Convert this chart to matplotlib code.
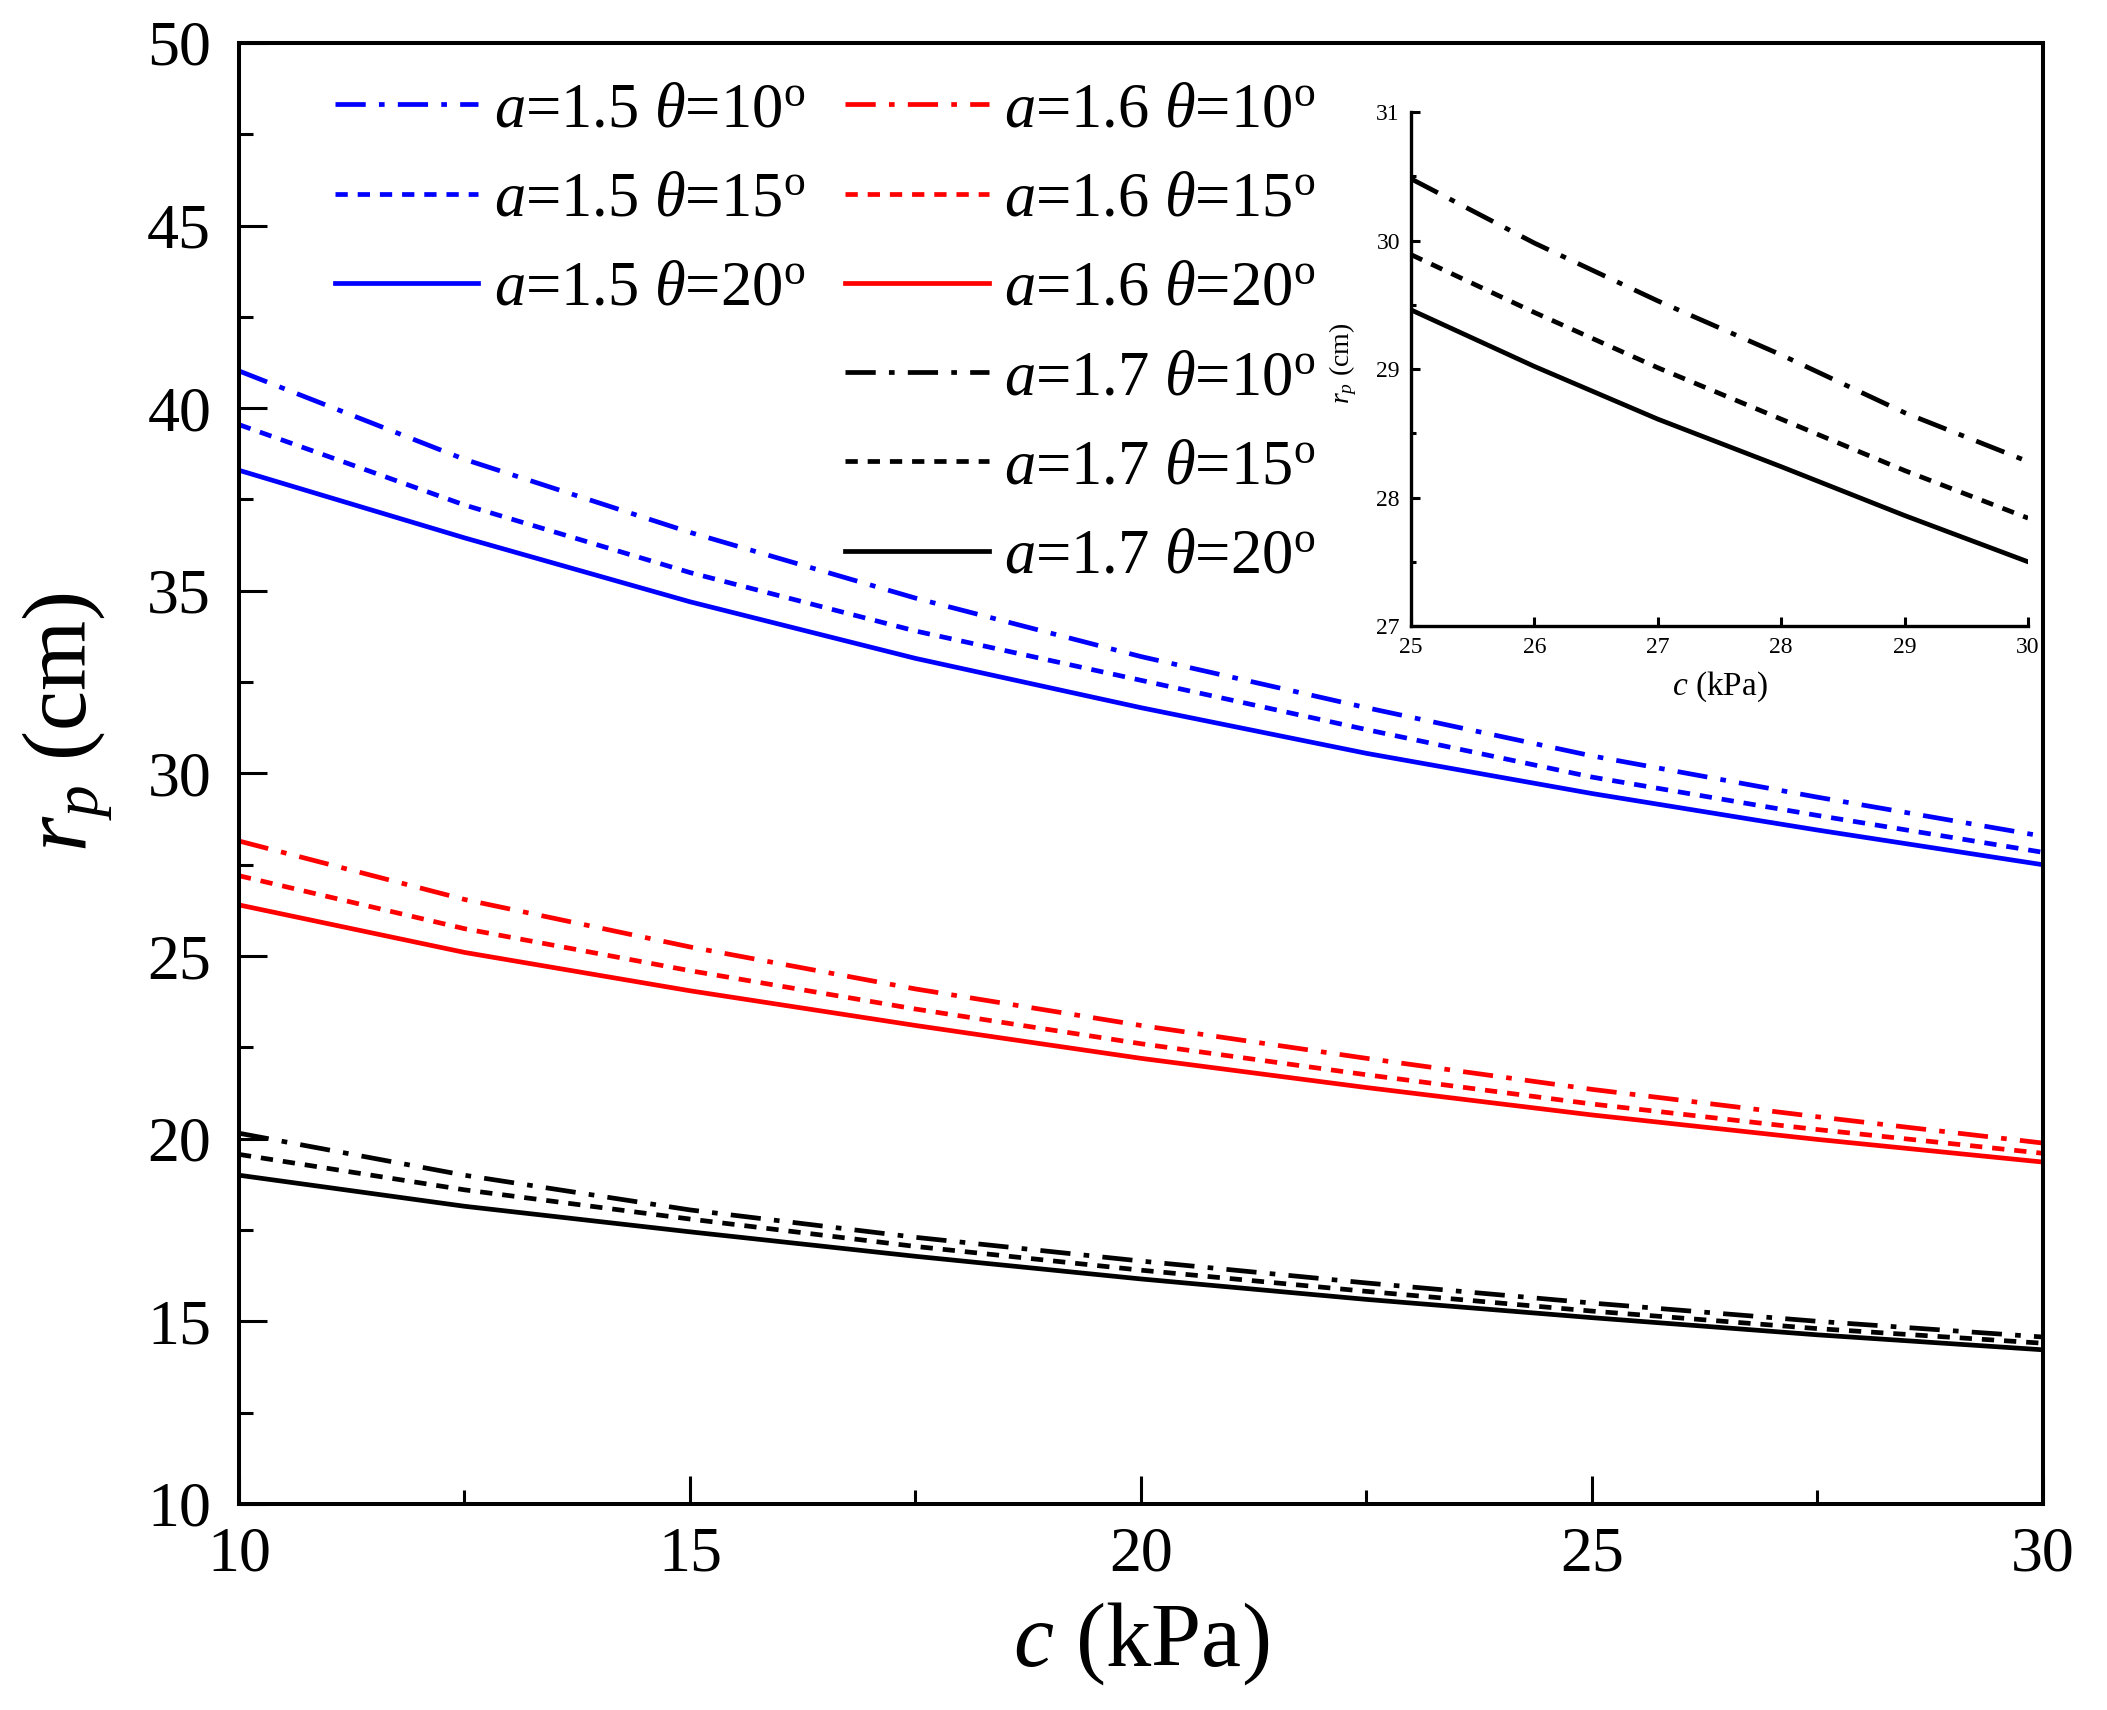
import matplotlib
matplotlib.use('Agg')
import matplotlib.pyplot as plt
from matplotlib.ticker import MultipleLocator

plt.rcParams['font.family'] = 'Liberation Serif'
plt.rcParams['mathtext.fontset'] = 'custom'
plt.rcParams['mathtext.rm'] = 'Liberation Serif'
plt.rcParams['mathtext.it'] = 'Liberation Serif:italic'
plt.rcParams['axes.unicode_minus'] = False

# cohesion c (kPa)
c = [10, 12.5, 15, 17.5, 20, 22.5, 25, 27.5, 30]

# r_p (cm), a = 1.5
a15_t10 = [41.02, 38.6, 36.6, 34.8, 33.2, 31.8, 30.48, 29.35, 28.28]
a15_t15 = [39.55, 37.35, 35.5, 33.9, 32.55, 31.2, 29.9, 28.85, 27.84]
a15_t20 = [38.3, 36.45, 34.7, 33.15, 31.8, 30.55, 29.45, 28.45, 27.5]
# a = 1.6
a16_t10 = [28.15, 26.55, 25.25, 24.1, 23.1, 22.2, 21.35, 20.6, 19.88]
a16_t15 = [27.2, 25.75, 24.6, 23.55, 22.6, 21.75, 20.95, 20.25, 19.6]
a16_t20 = [26.4, 25.1, 24.05, 23.1, 22.2, 21.4, 20.65, 19.98, 19.36]
# a = 1.7
a17_t10 = [20.15, 19.0, 18.05, 17.3, 16.65, 16.05, 15.5, 15.0, 14.57]
a17_t15 = [19.57, 18.6, 17.8, 17.05, 16.4, 15.82, 15.28, 14.8, 14.4]
a17_t20 = [19.0, 18.15, 17.45, 16.78, 16.16, 15.6, 15.1, 14.63, 14.22]

# inset (zoom 25-30 kPa)
c_in = [25, 26, 27, 28, 29, 30]
in_t10 = [30.48, 29.98, 29.53, 29.11, 28.66, 28.28]
in_t15 = [29.89, 29.44, 29.01, 28.61, 28.21, 27.84]
in_t20 = [29.46, 29.02, 28.61, 28.24, 27.86, 27.50]

lw = 3.4
dashdot = (0, (6.4, 2.8, 1.2, 2.8))
dashed = (0, (2.6, 2.1))
solid = '-'

fig = plt.figure(figsize=(21.07, 17.1), dpi=100)
ax = fig.add_axes([0.1134, 0.1205, 0.8562, 0.8544])

series = [
    (a15_t10, 'blue', dashdot, '1.5', '10'),
    (a15_t15, 'blue', dashed, '1.5', '15'),
    (a15_t20, 'blue', solid, '1.5', '20'),
    (a16_t10, 'red', dashdot, '1.6', '10'),
    (a16_t15, 'red', dashed, '1.6', '15'),
    (a16_t20, 'red', solid, '1.6', '20'),
    (a17_t10, 'black', dashdot, '1.7', '10'),
    (a17_t15, 'black', dashed, '1.7', '15'),
    (a17_t20, 'black', solid, '1.7', '20'),
]
handles = []
for y, col, ls, a, t in series:
    h, = ax.plot(c, y, color=col, linestyle=ls, lw=lw,
                 label=r'$a$=' + a + r' $\theta$=' + t + r'$^{\rm o}$')
    handles.append(h)

ax.set_xlim(10, 30)
ax.set_ylim(10, 50)
ax.xaxis.set_major_locator(MultipleLocator(5))
ax.xaxis.set_minor_locator(MultipleLocator(2.5))
ax.yaxis.set_major_locator(MultipleLocator(5))
ax.yaxis.set_minor_locator(MultipleLocator(2.5))
ax.tick_params(which='both', direction='in', top=False, right=False, width=2.2)
ax.tick_params(which='major', length=20, labelsize=46)
ax.tick_params(axis='x', which='major', pad=16)
ax.tick_params(axis='y', which='major', pad=20)
ax.tick_params(which='minor', length=10)
for s in ax.spines.values():
    s.set_linewidth(2.9)

ax.set_xlabel(r'$c$ (kPa)', fontsize=65)
ax.set_ylabel(r'$r_p$ (cm)', fontsize=65)
ax.xaxis.set_label_coords(0.5, -0.066)
ax.yaxis.set_label_coords(-0.068, 0.535)

leg_kw = dict(loc='upper left', frameon=False, fontsize=45, handlelength=2.3,
              handletextpad=0.25, labelspacing=0.5, borderpad=0, borderaxespad=0)
leg1 = ax.legend(handles=handles[:3], bbox_to_anchor=(0.053, 0.973), **leg_kw)
ax.add_artist(leg1)
ax.legend(handles=handles[3:], bbox_to_anchor=(0.336, 0.973), **leg_kw)

# inset
axin = fig.add_axes([0.6697, 0.6339, 0.2928, 0.3006])
axin.plot(c_in, in_t10, color='black', linestyle=dashdot, lw=lw)
axin.plot(c_in, in_t15, color='black', linestyle=dashed, lw=lw)
axin.plot(c_in, in_t20, color='black', linestyle=solid, lw=lw)
axin.set_xlim(25, 30)
axin.set_ylim(27, 31)
axin.xaxis.set_major_locator(MultipleLocator(1))
axin.yaxis.set_major_locator(MultipleLocator(1))
axin.yaxis.set_minor_locator(MultipleLocator(0.5))
axin.spines['top'].set_visible(False)
axin.spines['right'].set_visible(False)
for s in ['left', 'bottom']:
    axin.spines[s].set_linewidth(2.4)
axin.tick_params(which='both', direction='in', width=2.2, labelsize=17)
axin.tick_params(which='major', length=6.5, pad=8)
axin.tick_params(which='minor', length=3.6)
axin.set_xlabel(r'$c$ (kPa)', fontsize=24)
axin.set_ylabel(r'$r_p$ (cm)', fontsize=20)
axin.xaxis.set_label_coords(0.5, -0.085)
axin.yaxis.set_label_coords(-0.085, 0.51)

fig.savefig('out.png', dpi=100)
